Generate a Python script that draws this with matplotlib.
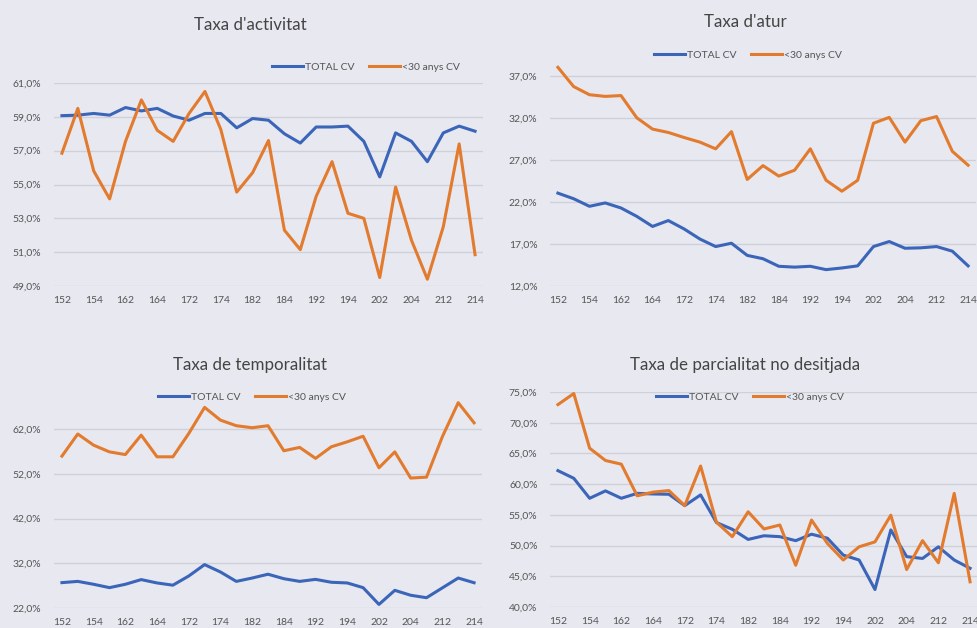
import matplotlib
matplotlib.use("Agg")
import matplotlib.pyplot as plt
from matplotlib.ticker import FuncFormatter

# trimestres 2015T2 .. 2021T4 (etiqueta cada dos)
periods = ["152", "153", "154", "161", "162", "163", "164", "171", "172", "173", "174",
           "181", "182", "183", "184", "191", "192", "193", "194",
           "201", "202", "203", "204", "211", "212", "213", "214"]

activ_total = [59.07, 59.1, 59.2, 59.1, 59.55, 59.35, 59.5, 59.05, 58.8, 59.2, 59.2,
               58.35, 58.9, 58.8, 58.0, 57.45, 58.4, 58.4, 58.45,
               57.55, 55.45, 58.05, 57.55, 56.35, 58.05, 58.45, 58.15]
activ_joves = [56.85, 59.5, 55.8, 54.15, 57.55, 60.0, 58.2, 57.55, 59.2, 60.5, 58.25,
               54.55, 55.7, 57.6, 52.3, 51.15, 54.3, 56.35, 53.3,
               53.0, 49.5, 54.85, 51.7, 49.4, 52.5, 57.4, 50.85]

atur_total = [23.07, 22.4, 21.5, 21.9, 21.3, 20.3, 19.1, 19.8, 18.8, 17.6, 16.7,
              17.1, 15.65, 15.25, 14.35, 14.25, 14.35, 13.95, 14.15,
              14.4, 16.7, 17.3, 16.5, 16.55, 16.7, 16.15, 14.4]
atur_joves = [38.07, 35.77, 34.8, 34.6, 34.7, 32.05, 30.7, 30.3, 29.7, 29.15, 28.35,
              30.4, 24.7, 26.35, 25.1, 25.8, 28.35, 24.6, 23.3,
              24.6, 31.4, 32.1, 29.15, 31.7, 32.2, 28.05, 26.4]

temp_total = [27.67, 27.95, 27.3, 26.55, 27.3, 28.35, 27.6, 27.1, 29.15, 31.7, 30.05,
              27.95, 28.7, 29.55, 28.55, 27.95, 28.4, 27.75, 27.6,
              26.55, 22.8, 25.95, 24.85, 24.3, 26.5, 28.7, 27.65]
temp_joves = [55.95, 60.9, 58.4, 56.9, 56.3, 60.65, 55.8, 55.8, 61.0, 66.85, 64.0,
              62.75, 62.3, 62.75, 57.15, 57.9, 55.45, 58.05, 59.15,
              60.4, 53.35, 56.9, 51.05, 51.25, 60.3, 67.9, 63.4]

parc_total = [62.2, 60.95, 57.7, 58.9, 57.7, 58.5, 58.4, 58.35, 56.5, 58.25, 53.75,
              52.65, 51.0, 51.6, 51.45, 50.8, 51.85, 51.2, 48.45,
              47.65, 42.85, 52.55, 48.2, 47.9, 49.8, 47.65, 46.3]
parc_joves = [72.95, 74.75, 65.85, 63.85, 63.25, 58.1, 58.7, 58.95, 56.5, 62.95, 53.8,
              51.45, 55.5, 52.7, 53.35, 46.8, 54.15, 50.35, 47.65,
              49.8, 50.6, 54.95, 46.1, 50.8, 47.2, 58.5, 44.1]

BG = "#e7e8f0"
BLUE = "#3b65b9"
ORANGE = "#e27b2e"
GRID = "#cfd0d8"
TXT = "#555555"

plt.rcParams['font.family'] = ['Lato', 'DejaVu Sans']

W, H = 978, 628
fig = plt.figure(figsize=(W / 100, H / 100), dpi=100, facecolor=BG)


def px_axes(left, right, top, bottom):
    return fig.add_axes([left / W, 1 - bottom / H, (right - left) / W, (bottom - top) / H])


def pct(v, pos):
    return ("%.1f%%" % v).replace(".", ",")


panels = [
    # title, total, joves, (l, r, top, bottom), ylim, yticks, title xy, legend xy
    ("Taxa d'activitat", activ_total, activ_joves, (54, 483, 83, 286), (49, 61),
     [49, 51, 53, 55, 57, 59, 61], (250, 25), (366, 67)),
    ("Taxa d'atur", atur_total, atur_joves, (550, 976, 62, 286), (12, 38.7),
     [12, 17, 22, 27, 32, 37], (745, 22), (748, 55)),
    ("Taxa de temporalitat", temp_total, temp_joves, (54, 482, 400, 608), (22, 68.5),
     [22, 32, 42, 52, 62], (250, 365), (252, 397)),
    ("Taxa de parcialitat no desitjada", parc_total, parc_joves, (550, 978, 392, 607), (40, 75),
     [40, 45, 50, 55, 60, 65, 70, 75], (745, 365), (750, 397)),
]

x = list(range(len(periods)))
for title, tot, jov, box, ylim, yt, txy, lxy in panels:
    ax = px_axes(*box)
    ax.set_facecolor(BG)
    l1, = ax.plot(x, tot, color=BLUE, lw=2.2, label="TOTAL CV")
    l2, = ax.plot(x, jov, color=ORANGE, lw=2.2, label="<30 anys CV")
    ax.set_xlim(-0.5, len(periods) - 0.5)
    ax.set_ylim(*ylim)
    ax.set_yticks(yt)
    ax.yaxis.set_major_formatter(FuncFormatter(pct))
    ax.set_xticks(x[::2])
    ax.set_xticklabels(periods[::2])
    ax.grid(axis="y", color=GRID, lw=1)
    ax.set_axisbelow(True)
    for s in ax.spines.values():
        s.set_visible(False)
    ax.tick_params(length=0, labelsize=7.5, colors=TXT, pad=7)
    ax.tick_params(axis="y", pad=9)
    fig.text(txy[0] / W, 1 - txy[1] / H, title, ha="center", va="center",
             fontsize=12.2, color="#444444")
    fig.legend(handles=[l1, l2], loc="center", bbox_to_anchor=(lxy[0] / W, 1 - lxy[1] / H),
               ncol=2, frameon=False, fontsize=7.5, handlelength=3.0, handletextpad=0.15,
               columnspacing=1.4, labelcolor=TXT)

fig.savefig("out.png", dpi=100, facecolor=BG)
